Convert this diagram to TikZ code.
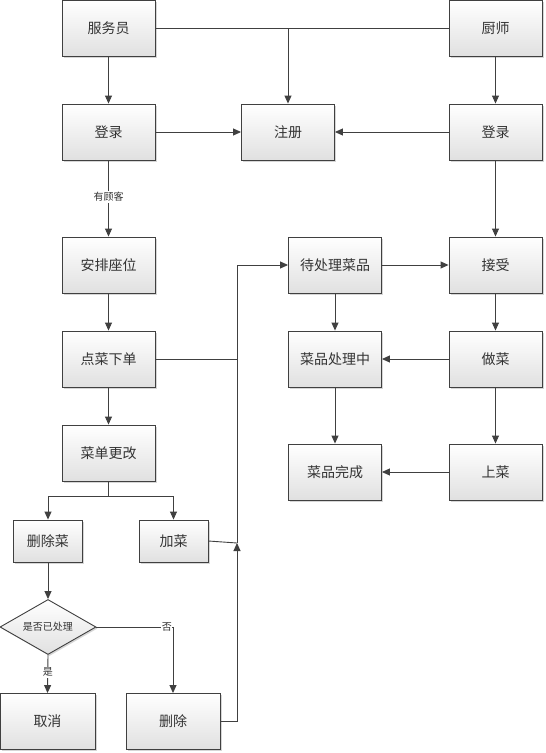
\documentclass[tikz,border=0pt]{standalone}
\usepackage{fontspec}
\setmainfont{Noto Sans CJK SC}
\usetikzlibrary{arrows.meta,shapes.geometric,shadows}
\definecolor{edge}{HTML}{404040}
\definecolor{txt}{HTML}{333333}
\tikzset{
  box/.style={draw=edge, line width=0.9pt, top color=white, bottom color=black!12,
    minimum width=93pt, minimum height=56pt, inner sep=0pt, text=txt,
    font=\fontsize{14}{16}\selectfont,
    drop shadow={shadow xshift=1.5pt, shadow yshift=-1.5pt, fill=black!40, opacity=0.4}},
  smallbox/.style={box, minimum width=69pt, minimum height=42pt},
  decision/.style={diamond, aspect=1.75, draw=edge, line width=0.9pt, top color=white, bottom color=black!12,
    minimum width=96pt, minimum height=55pt, inner sep=0pt, text=txt,
    font=\fontsize{10}{12}\selectfont,
    drop shadow={shadow xshift=1.5pt, shadow yshift=-1.5pt, fill=black!40, opacity=0.4}},
  conn/.style={draw=edge, line width=0.9pt},
  arr/.style={conn, -{Triangle[length=8pt,width=7pt]}},
  lbl/.style={fill=white, inner sep=1pt, text=txt, font=\fontsize{10}{12}\selectfont},
}
\begin{document}
\begin{tikzpicture}[x=1pt,y=-1pt]
\useasboundingbox[fill=white] (0,0) rectangle (546,753);
% nodes
\node[box] (fwy) at (108.5,28.5) {服务员};
\node[box] (cs) at (495.5,28.5) {厨师};
\node[box] (dlA) at (108.5,132) {登录};
\node[box] (zc) at (288,132) {注册};
\node[box] (dlB) at (495.5,132) {登录};
\node[box] (apzw) at (108.5,265) {安排座位};
\node[box] (dcl) at (335,265) {待处理菜品};
\node[box] (js) at (495.5,265) {接受};
\node[box] (dcxd) at (108.5,359) {点菜下单};
\node[box] (clz) at (335,359) {菜品处理中};
\node[box] (zcai) at (495.5,359) {做菜};
\node[box] (cdgg) at (108.5,453) {菜单更改};
\node[box] (wc) at (335,472) {菜品完成};
\node[box] (scai) at (495.5,472) {上菜};
\node[smallbox] (scc) at (48,541) {删除菜};
\node[smallbox] (jc) at (173.5,541) {加菜};
\node[decision] (dia) at (48,627) {是否已处理};
\node[box, minimum width=95pt] (qx) at (47.5,721.5) {取消};
\node[box, minimum width=94pt] (sc) at (173,721.5) {删除};
% helper coordinates
\coordinate (bus) at (237,359);
\coordinate (bus2) at (237,543);
\coordinate (split) at (108.5,496);
% connectors
\draw[arr] (fwy) -- (dlA);
\draw[conn] (fwy.east) -- (cs.west);
\draw[arr] (fwy.east -| zc.north) -- (zc.north);
\draw[arr] (cs) -- (dlB);
\draw[arr] (dlA) -- (zc);
\draw[arr] (dlB) -- (zc);
\draw[arr] (dlA) -- node[lbl, pos=0.48] {有顾客} (apzw);
\draw[arr] (dlB) -- (js);
\draw[arr] (apzw) -- (dcxd);
\draw[arr] (dcxd.east) -- (bus) |- (dcl.west);
\draw[arr] (dcl) -- (js);
\draw[arr] (dcl) -- (clz);
\draw[arr] (js) -- (zcai);
\draw[arr] (zcai) -- (clz);
\draw[arr] (zcai) -- (scai);
\draw[arr] (clz) -- (wc);
\draw[arr] (scai) -- (wc);
\draw[arr] (dcxd) -- (cdgg);
\draw[conn] (cdgg.south) -- (split);
\draw[arr] (split) -| (scc.north);
\draw[arr] (split) -| (jc.north);
\draw[conn] (jc.east) -- (bus2);
\draw[arr] (sc.east) -| (bus2);
\draw[conn] (bus2) -- (bus);
\draw[arr] (scc) -- (dia);
\draw[arr] (dia.south) -- node[lbl, pos=0.45] {是} (qx.north);
\draw[arr] (dia.east) -| node[lbl, pos=0.46, inner sep=0.5pt] {否} (sc.north);
\end{tikzpicture}
\end{document}
